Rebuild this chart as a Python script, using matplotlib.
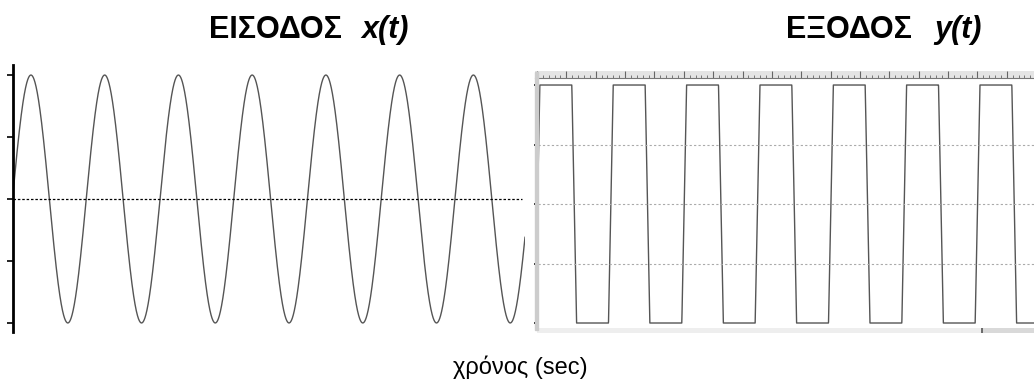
import numpy as np
import matplotlib.pyplot as plt
from matplotlib.patches import Rectangle

plt.rcParams['font.family'] = ['Liberation Sans', 'DejaVu Sans']

# signal parameters
freq = 1.0            # Hz
amplitude = 1.0
clip_gain = 5.0       # gain before the limiter
t_in_end = 6.95       # visible length of input trace (sec)
t_out_end = 6.77      # visible length of output trace (sec)
level_ticks = [1.0, 0.5, 0.0, -0.5, -1.0]
grid_levels = [0.5, 0.0, -0.5]

t_in = np.linspace(0, t_in_end, 4000)
x_in = amplitude * np.sin(2 * np.pi * freq * t_in)

t_out = np.linspace(0, t_out_end, 4000)
y_out = np.clip(clip_gain * np.sin(2 * np.pi * freq * t_out), -1, 1)

W, H = 1034, 389


def box(x0, y0, x1, y1):
    # pixel rectangle -> figure fraction [left, bottom, width, height]
    return [x0 / W, 1 - y1 / H, (x1 - x0) / W, (y1 - y0) / H]


fig = plt.figure(figsize=(W / 100, H / 100), dpi=100)

# input panel
ax1 = fig.add_axes(box(12.5, 65, 525, 332))
ax1.plot(t_in, x_in, color='#555555', lw=1.0)
ax1.axhline(0, xmin=0, xmax=0.994, color='black', lw=0.9, ls=(0, (2, 1.5)))
ax1.set_xlim(0, t_in_end)
ax1.set_ylim(-1.073, 1.081)
for s in ['top', 'right', 'bottom']:
    ax1.spines[s].set_visible(False)
ax1.spines['left'].set_linewidth(2)
ax1.set_yticks(level_ticks)
ax1.set_yticklabels([])
ax1.set_xticks([])
ax1.tick_params(axis='y', direction='out', length=4, width=1.2)

# output panel
ax2 = fig.add_axes(box(537.5, 78, 1034, 328))
ax2.plot(t_out, y_out, color='#555555', lw=1.0)
for g in grid_levels:
    ax2.axhline(g, color='#aaaaaa', lw=0.8, ls=(0, (2, 2)))
ax2.set_xlim(0, t_out_end)
ax2.set_ylim(-1.042, 1.059)
for s in ['top', 'right', 'bottom']:
    ax2.spines[s].set_visible(False)
ax2.spines['left'].set_linewidth(1.3)
ax2.set_yticks(level_ticks)
ax2.set_yticklabels([])
ax2.set_xticks([])
ax2.tick_params(axis='y', direction='out', length=3, width=1.2)

# grey strip beside the output axis
fig.patches.append(Rectangle((534.5 / W, 1 - 330 / H), 3 / W, 258 / H,
                             transform=fig.transFigure, color='#cccccc', zorder=0))

# ruler along the top of the output panel
ruler = fig.add_axes(box(535, 71, 1034, 78))
ruler.set_facecolor('#e4e4e4')
ruler.set_xlim(-2 / 73.4, t_out_end)
ruler.set_ylim(0, 1)
for s in ['top', 'right', 'left']:
    ruler.spines[s].set_visible(False)
ruler.spines['bottom'].set_color('#777777')
ruler.spines['bottom'].set_linewidth(0.8)
ruler.set_xticks(np.arange(0, t_out_end, 0.4))
ruler.set_xticks(np.arange(0, t_out_end, 0.08), minor=True)
ruler.set_xticklabels([])
ruler.set_yticks([])
ruler.tick_params(axis='x', which='major', direction='in', length=5, width=0.8, color='#666666')
ruler.tick_params(axis='x', which='minor', direction='in', length=2.5, width=0.7, color='#777777')

# scroll bar under the output panel
bar = fig.add_axes(box(537, 328, 1034, 333))
bar.set_xlim(0, t_out_end)
bar.set_ylim(0, 1)
bar.axis('off')
bar.add_patch(Rectangle((0, 0), 1, 1, transform=bar.transAxes, color='#eeeeee', zorder=0))
bar.axvspan(6.06, t_out_end, color='#d9d9d9')
bar.axvline(6.06, color='#555555', lw=1.2)

# titles
ty = 1 - 38 / H
fig.text(342 / W, ty, 'ΕΙΣΟΔΟΣ', ha='right', va='baseline', fontsize=22, fontweight='bold')
fig.text(361 / W, ty, 'x(t)', ha='left', va='baseline', fontsize=22,
         fontweight='bold', fontstyle='italic')
fig.text(912 / W, ty, 'ΕΞΟΔΟΣ', ha='right', va='baseline', fontsize=22, fontweight='bold')
fig.text(934 / W, ty, 'y(t)', ha='left', va='baseline', fontsize=22,
         fontweight='bold', fontstyle='italic')

fig.text(520 / W, 1 - 374 / H, 'χρόνος (sec)', ha='center', va='baseline', fontsize=17)

fig.savefig('out.png', dpi=100)
